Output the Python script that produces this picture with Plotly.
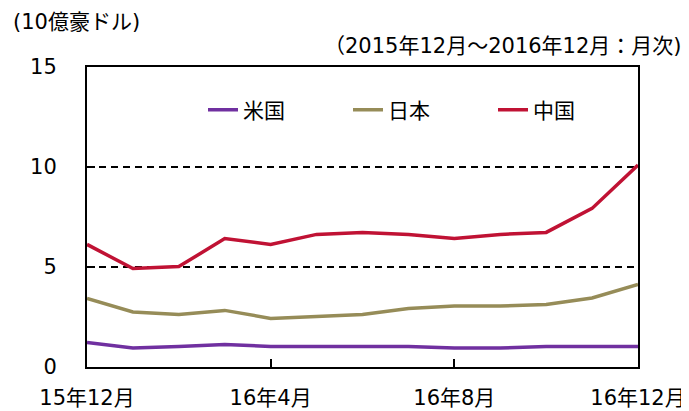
import plotly.graph_objects as go

months = ["15年12月", "16年1月", "16年2月", "16年3月", "16年4月", "16年5月", "16年6月",
          "16年7月", "16年8月", "16年9月", "16年10月", "16年11月", "16年12月"]
us = [1.22, 0.95, 1.03, 1.12, 1.03, 1.03, 1.03, 1.03, 0.95, 0.95, 1.03, 1.03, 1.03]
japan = [3.43, 2.75, 2.62, 2.83, 2.43, 2.52, 2.63, 2.93, 3.05, 3.05, 3.13, 3.45, 4.13]
china = [6.13, 4.92, 5.02, 6.42, 6.13, 6.63, 6.72, 6.63, 6.42, 6.63, 6.73, 7.93, 10.1]
tick_idx = [0, 4, 8, 12]
tick_text = [months[i] for i in tick_idx]
y_ticks = [0, 5, 10, 15]

FONT = "DejaVu Sans, Noto Sans CJK JP, sans-serif"
x = list(range(len(months)))

fig = go.Figure()
for name, vals, col in [("米国", us, "rgb(112,48,160)"),
                        ("日本", japan, "rgb(150,140,88)"),
                        ("中国", china, "rgb(192,18,52)")]:
    fig.add_trace(go.Scatter(x=x, y=vals, name=name, mode="lines",
                             line=dict(color=col, width=3.5)))

# page has an 8px body margin; plot area in page coords: x 87..638, y 67..367
W, H = 551, 300
fig.update_layout(
    width=681, height=403,
    margin=dict(l=79, r=51, t=59, b=44, autoexpand=False),
    plot_bgcolor="white", paper_bgcolor="white",
    font=dict(family=FONT, size=21, color="black"),
    showlegend=True,
    legend=dict(orientation="h", x=(203 - 87) / W, y=(367 - 110) / H,
                xanchor="left", yanchor="middle",
                font=dict(size=21), entrywidth=100, entrywidthmode="pixels",
                bgcolor="rgba(0,0,0,0)", traceorder="normal"),
    xaxis=dict(range=[0, 12], tickvals=tick_idx, ticktext=tick_text,
               showline=True, mirror=True, linecolor="black", linewidth=2,
               ticks="inside", ticklen=8, tickwidth=1.5, tickcolor="black",
               showgrid=False, zeroline=False, ticklabelstandoff=11, automargin=False),
    yaxis=dict(range=[0, 15], tickvals=y_ticks,
               showline=True, mirror=True, linecolor="black", linewidth=2,
               ticks="inside", ticklen=8, tickwidth=1.5, tickcolor="black",
               showgrid=True, gridcolor="black", gridwidth=2, griddash="7px,5px",
               zeroline=False, ticklabelstandoff=24, automargin=False),
    annotations=[
        dict(text="(10億豪ドル)", xref="paper", yref="paper", x=-76 / W, y=(367 - 22) / H,
             xanchor="left", yanchor="middle", showarrow=False, font=dict(size=21)),
        dict(text="（2015年12月～2016年12月：月次)", xref="paper", yref="paper",
             x=1 + 46 / W, y=(367 - 46) / H, xanchor="right", yanchor="middle",
             showarrow=False, font=dict(size=21)),
    ],
)

fig.write_html("out.html")
